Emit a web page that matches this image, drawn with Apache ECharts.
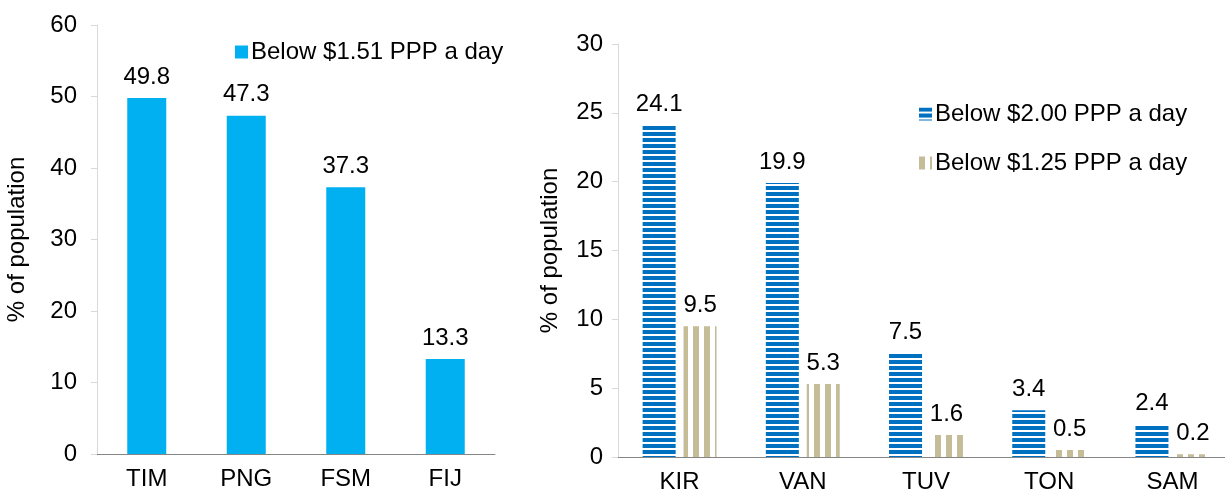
<!DOCTYPE html>
<html>
<head>
<meta charset="utf-8">
<script src="https://cdn.jsdelivr.net/npm/echarts@6/dist/echarts.min.js"></script>
<style>
  html, body { margin: 0; padding: 0; background: #ffffff; }
  #chart { width: 1225px; height: 493px; }
</style>
</head>
<body>
<div id="chart"></div>
<script>
// Left panel: one poverty line
const leftCategories = ['TIM', 'PNG', 'FSM', 'FIJ'];
const leftValues = [49.8, 47.3, 37.3, 13.3];
const leftSeriesName = 'Below $1.51 PPP a day';

// Right panel: two poverty lines
const rightCategories = ['KIR', 'VAN', 'TUV', 'TON', 'SAM'];
const below200 = [24.1, 19.9, 7.5, 3.4, 2.4];
const below125 = [9.5, 5.3, 1.6, 0.5, 0.2];
const rightSeriesNames = ['Below $2.00 PPP a day', 'Below $1.25 PPP a day'];

const axisTitle = '% of population';

// Striped fills built on small canvases
function stripes(w, h, color, horizontal, band) {
  const c = document.createElement('canvas');
  c.width = w; c.height = h;
  const g = c.getContext('2d');
  g.fillStyle = '#ffffff';
  g.fillRect(0, 0, w, h);
  g.fillStyle = color;
  if (horizontal) g.fillRect(0, 0, w, band);
  else g.fillRect(0, 0, band, h);
  return { image: c, repeat: 'repeat' };
}
const blueStripes = stripes(6, 6, '#0070C0', true, 4);
const tanStripes = stripes(11, 11, '#C4BD97', false, 6);

const FONT = 'Liberation Sans, Arial, sans-serif';
const FS = 24;
const TXT = '#000000';

function yAxisCfg(gridIndex, max, interval, labelMargin, nameGap) {
  return {
    type: 'value', gridIndex, min: 0, max, interval,
    name: axisTitle, nameLocation: 'middle', nameRotate: 90, nameGap,
    nameTextStyle: { fontFamily: FONT, fontSize: FS, color: TXT },
    axisLine: { show: true, lineStyle: { color: '#D9D9D9', width: 1 } },
    axisTick: { show: true, length: 6, lineStyle: { color: '#D9D9D9' } },
    axisLabel: { fontFamily: FONT, fontSize: FS, color: TXT, margin: labelMargin },
    splitLine: { show: false }
  };
}
function xAxisCfg(gridIndex, data) {
  return {
    type: 'category', gridIndex, data,
    axisLine: { show: true, lineStyle: { color: '#868686', width: 1 } },
    axisTick: { show: false },
    axisLabel: { fontFamily: FONT, fontSize: FS, color: TXT, margin: 13 }
  };
}
const valueLabel = {
  show: true, position: 'top', distance: 9,
  fontFamily: FONT, fontSize: FS, color: TXT,
  formatter: p => p.value.toFixed(1)
};

const option = {
  animation: false,
  backgroundColor: '#ffffff',
  grid: [
    { left: 97, top: 25, width: 398, bottom: 39, outerBoundsMode: 'none' },
    // right panel runs slightly past the canvas edge
    { left: 618, top: 44, width: 616, bottom: 36, outerBoundsMode: 'none' }
  ],
  xAxis: [xAxisCfg(0, leftCategories), xAxisCfg(1, rightCategories)],
  yAxis: [yAxisCfg(0, 60, 10, 20, 68), yAxisCfg(1, 30, 5, 15, 56)],
  legend: [
    {
      data: [leftSeriesName], left: 230, top: 35,
      icon: 'rect', itemWidth: 13, itemHeight: 13, itemGap: 4,
      textStyle: { fontFamily: FONT, fontSize: FS, color: TXT, padding: [0, 0, 0, -2] }
    },
    {
      data: rightSeriesNames, left: 914, top: 97, orient: 'vertical',
      icon: 'rect', itemWidth: 13, itemHeight: 13, itemGap: 25,
      textStyle: { fontFamily: FONT, fontSize: FS, color: TXT, padding: [0, 0, 0, -2] }
    }
  ],
  series: [
    {
      name: leftSeriesName, type: 'bar', xAxisIndex: 0, yAxisIndex: 0,
      data: leftValues, barWidth: 39,
      itemStyle: { color: '#00B0F0' },
      label: valueLabel
    },
    {
      name: rightSeriesNames[0], type: 'bar', xAxisIndex: 1, yAxisIndex: 1,
      data: below200, barWidth: 33, barGap: '24%',
      itemStyle: { color: blueStripes },
      label: valueLabel
    },
    {
      name: rightSeriesNames[1], type: 'bar', xAxisIndex: 1, yAxisIndex: 1,
      data: below125, barWidth: 33, barGap: '24%',
      itemStyle: { color: tanStripes },
      label: valueLabel
    }
  ]
};

const chart = echarts.init(document.getElementById('chart'), null, { renderer: 'canvas' });
chart.setOption(option);
</script>
</body>
</html>
